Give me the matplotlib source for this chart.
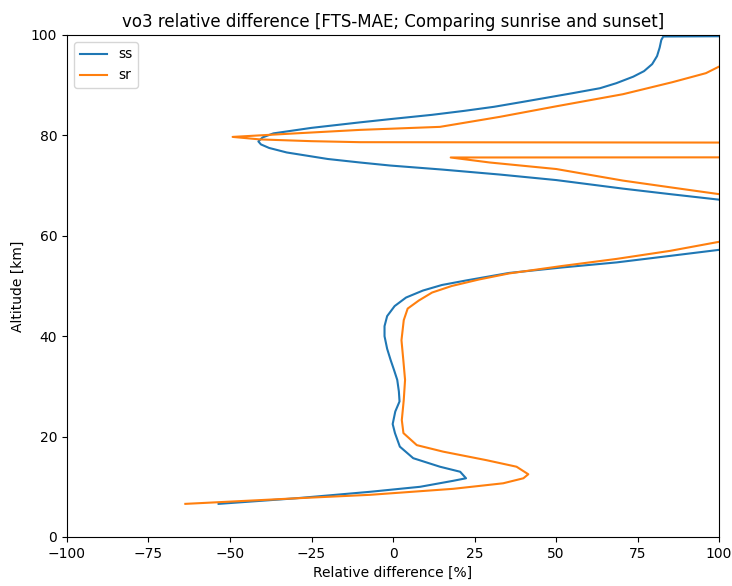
import matplotlib
matplotlib.use("Agg")
import matplotlib.pyplot as plt

# sunset (ss): relative difference [%] and altitude [km]
ss_diff = [-53.5, -30.0, -7.1, 8.3, 18.5, 22.4, 20.6, 14.4, 6.2, 2.1, 0.6, -0.1, 0.7, 2.0,
           1.8, 1.3, 0.3, -0.7, -1.8, -2.6, -2.6, -1.8, 0.5, 4.0, 9.2, 15.0, 22.4, 35.6,
           52.0, 68.6, 85.0, 100.0, 125.0, 150.0, 120.0,
           100.0, 85.0, 70.5, 50.1, 32.8, 15.0, -0.9, -10.1, -20.0, -32.6, -38.0, -40.5,
           -41.3, -40.0, -36.7, -25.0, -10.1, 0.0, 12.0, 22.0, 31.0, 40.0, 55.0, 63.5, 68.5,
           73.7, 77.0, 79.5, 81.0, 81.8, 82.3, 82.9, 100.0]
ss_alt = [6.6, 7.7, 9.0, 10.0, 11.2, 11.7, 13.0, 14.0, 15.7, 18.0, 20.7, 22.5, 25.0, 27.0,
          29.0, 31.3, 33.3, 35.2, 37.5, 40.0, 42.0, 44.0, 46.0, 47.7, 49.1, 50.2, 51.1, 52.6,
          53.7, 54.7, 56.0, 57.2, 59.0, 62.0, 66.0,
          67.2, 68.3, 69.4, 71.1, 72.2, 73.2, 74.0, 74.6, 75.3, 76.6, 77.5, 78.2,
          78.8, 79.6, 80.4, 81.5, 82.6, 83.3, 84.1, 84.9, 85.7, 86.7, 88.4, 89.4, 90.4,
          91.7, 92.8, 94.2, 95.8, 97.5, 99.0, 99.7, 99.75]

# sunrise (sr)
sr_diff = [-63.7, -30.0, -7.1, 18.5, 33.8, 40.0, 41.5, 37.9, 28.7, 15.4, 7.3, 3.2,
           2.7, 3.3, 3.7, 3.2, 2.6, 3.3, 4.5, 7.9, 12.0, 18.0, 26.4, 35.6, 52.0, 68.6, 85.0,
           100.0, 130.0, 150.0, 125.0,
           100.0, 85.7, 70.5, 50.1, 29.7, 17.7, 3000.0, 1500.0, -10.1, -25.0, -40.8, -49.2,
           -30.0, -10.1, 14.4, 32.8, 50.1, 70.5, 85.7, 96.0, 100.0, 115.0, 130.0]
sr_alt = [6.6, 7.7, 8.4, 9.6, 10.7, 11.7, 12.5, 14.0, 15.3, 17.0, 18.3, 20.7,
          23.3, 27.3, 31.3, 35.0, 39.2, 43.2, 45.5, 47.1, 48.7, 50.0, 51.3, 52.5, 54.0, 55.4, 57.0,
          58.8, 61.0, 64.0, 67.0,
          68.3, 69.6, 71.0, 73.3, 74.6, 75.6, 76.6, 77.6, 78.65, 78.85, 79.2, 79.7,
          80.4, 81.1, 81.7, 83.7, 85.8, 88.2, 90.6, 92.4, 93.7, 96.0, 100.0]

fig = plt.figure(figsize=(7.32, 5.86), dpi=100)
ax = fig.add_axes([67 / 732, 49 / 586, 652 / 732, 502 / 586])
ax.plot(ss_diff, ss_alt, label="ss")
ax.plot(sr_diff, sr_alt, label="sr")
ax.set_xlim(-100, 100)
ax.set_ylim(0, 100)
ax.set_xlabel("Relative difference [%]")
ax.set_ylabel("Altitude [km]")
ax.set_title("vo3 relative difference [FTS-MAE; Comparing sunrise and sunset]")
ax.legend(loc="upper left")
fig.savefig("out.png", dpi=100)
